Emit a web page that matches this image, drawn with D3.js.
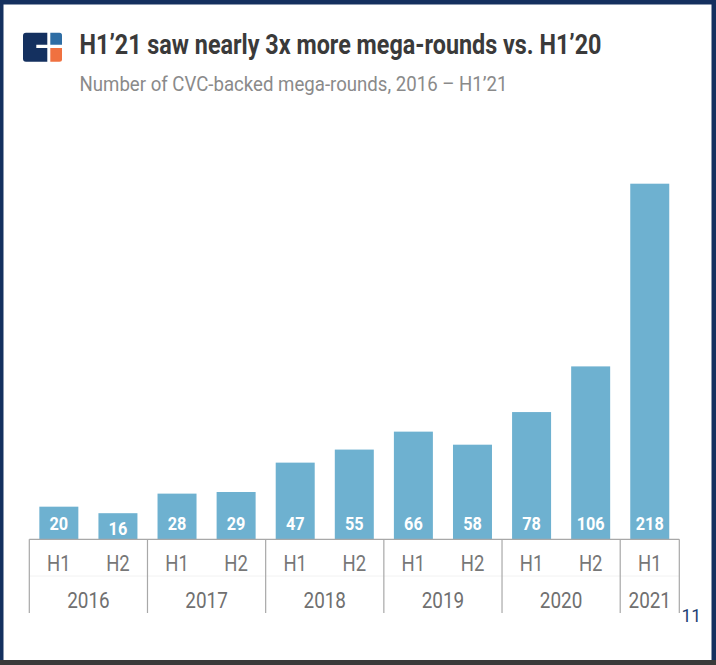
<!DOCTYPE html>
<html>
<head>
<meta charset="utf-8">
<script src="https://cdn.jsdelivr.net/npm/d3@7"></script>
<style>
  html, body { margin: 0; padding: 0; background: #fff; }
  svg { display: block; }
</style>
</head>
<body>
<svg id="chart" width="716" height="665"></svg>
<script>
// ---- data ----
const years = ["2016", "2017", "2018", "2019", "2020", "2021"];
const halves = ["H1", "H2", "H1", "H2", "H1", "H2", "H1", "H2", "H1", "H2", "H1"];
const periodYears = ["2016", "2016", "2017", "2017", "2018", "2018", "2019", "2019", "2020", "2020", "2021"];
const megaRounds = [20, 16, 28, 29, 47, 55, 66, 58, 78, 106, 218];
const title = "H1\u201921 saw nearly 3x more mega-rounds vs. H1\u201920";
const subtitle = "Number of CVC-backed mega-rounds, 2016 \u2013 H1\u201921";
const pageNumber = "11";

const rows = megaRounds.map((v, i) => ({ key: periodYears[i] + "-" + halves[i], half: halves[i], year: periodYears[i], value: v }));

const svg = d3.select("#chart");

// frame
svg.append("rect").attr("x", 0).attr("y", 0).attr("width", 716).attr("height", 665).attr("fill", "#14305f");
svg.append("rect").attr("x", 0).attr("y", 660).attr("width", 716).attr("height", 5).attr("fill", "#3a3a3a");
svg.append("rect").attr("x", 3.5).attr("y", 4.5).attr("width", 708).attr("height", 655.5).attr("fill", "#ffffff");

// logo
const logo = svg.append("g");
logo.append("path")
  .attr("d", "M26,32.7 H47.3 V44.7 H36.3 V48 H47.3 V61.7 H26 Q23,61.7 23,58.7 V35.7 Q23,32.7 26,32.7 Z")
  .attr("fill", "#14305f");
logo.append("path")
  .attr("d", "M50.3,32.7 H59.5 Q62,32.7 62,35.2 V44.7 H50.3 Z")
  .attr("fill", "#2e6da4");
logo.append("path")
  .attr("d", "M50.3,48 H62 V59.2 Q62,61.7 59.5,61.7 H50.3 Z")
  .attr("fill", "#f07140");

// condensed text helper
function ctext(parent, x, y, str, opts) {
  const g = parent.append("g").attr("transform", `translate(${x},${y}) scale(${opts.sx || 0.87},1)`);
  return g.append("text")
    .attr("x", 0).attr("y", 0)
    .attr("text-anchor", opts.anchor || "middle")
    .attr("font-family", "Roboto, 'Noto Sans', sans-serif")
    .attr("font-size", opts.size)
    .attr("font-weight", opts.weight || 400)
    .attr("fill", opts.fill)
    .text(str);
}

// title & subtitle
svg.append("text")
  .attr("x", 79.5).attr("y", 54)
  .attr("font-family", "Roboto, sans-serif").attr("font-weight", 700).attr("font-size", 28)
  .attr("fill", "#3a3a3a")
  .attr("textLength", 522).attr("lengthAdjust", "spacingAndGlyphs")
  .text(title);
svg.append("text")
  .attr("x", 79.5).attr("y", 91)
  .attr("font-family", "Roboto, sans-serif").attr("font-weight", 400).attr("font-size", 21)
  .attr("fill", "#8a8a8a")
  .attr("textLength", 428).attr("lengthAdjust", "spacingAndGlyphs")
  .text(subtitle);

// scales
const baseY = 539.3;
const x = d3.scaleBand().domain(rows.map(d => d.key)).range([29.3, 679.3]).paddingInner(0.34).paddingOuter(0.17);
const y = d3.scaleLinear().domain([0, 218]).range([baseY, 183.7]);

// bars
svg.append("g").selectAll("rect").data(rows).join("rect")
  .attr("x", d => x(d.key))
  .attr("y", d => y(d.value))
  .attr("width", x.bandwidth())
  .attr("height", d => baseY - y(d.value))
  .attr("fill", "#6eb1d0");

// value labels
const lab = svg.append("g");
rows.forEach(d => {
  const cx = x(d.key) + x.bandwidth() / 2;
  const ly = Math.max(530, y(d.value) + 22);
  ctext(lab, cx, ly, String(d.value), { size: 18.5, weight: 700, fill: "#ffffff", sx: 0.88 });
});

// axis
const ax = svg.append("g");
const step = x.step();
const x0 = x.range()[0];
const x1 = x.range()[1];
ax.append("line").attr("x1", x0).attr("x2", x1).attr("y1", baseY).attr("y2", baseY)
  .attr("stroke", "#a8a8a8").attr("stroke-width", 1.2);
ax.append("line").attr("x1", x0).attr("x2", x1).attr("y1", 576).attr("y2", 576)
  .attr("stroke", "#f2f2f2").attr("stroke-width", 1);

// half labels
rows.forEach(d => {
  ctext(ax, x(d.key) + x.bandwidth() / 2, 571, d.half, { size: 21.5, fill: "#777777", sx: 0.86 });
});

// year groups
let idx = 0;
const boundaries = [x0];
years.forEach(yr => {
  const n = periodYears.filter(p => p === yr).length;
  const gx0 = x0 + idx * step;
  const gx1 = gx0 + n * step;
  ctext(ax, (gx0 + gx1) / 2, 608.3, yr, { size: 22, fill: "#707070", sx: 0.86 });
  boundaries.push(gx1);
  idx += n;
});
ax.selectAll("line.sep").data(boundaries).join("line").attr("class", "sep")
  .attr("x1", d => d).attr("x2", d => d)
  .attr("y1", baseY).attr("y2", 613)
  .attr("stroke", "#a8a8a8").attr("stroke-width", 1.2);

// page number
svg.append("text").attr("x", 681.5).attr("y", 622)
  .attr("font-family", "Roboto, sans-serif").attr("font-size", 17.5)
  .attr("fill", "#1c3e73").text(pageNumber);
</script>
</body>
</html>
